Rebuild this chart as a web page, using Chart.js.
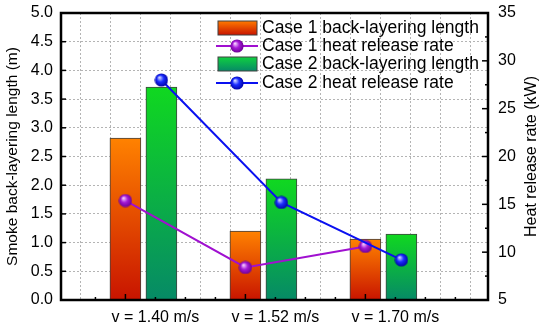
<!DOCTYPE html>
<html>
<head>
<meta charset="utf-8">
<script src="https://cdn.jsdelivr.net/npm/chart.js@4"></script>
<style>
  html, body { margin: 0; padding: 0; background: #fff; }
  #wrap { width: 550px; height: 332px; }
</style>
</head>
<body>
<div id="wrap"><canvas id="chart"></canvas></div>
<script>
/* ---------------------------------- Data ---------------------------------- */
const velocityLabels = ['v = 1.40 m/s', 'v = 1.52 m/s', 'v = 1.70 m/s'];
const case1Length = [2.82, 1.20, 1.06];
const case2Length = [3.71, 2.11, 1.15];
const case1Heat = [15.4, 8.4, 10.6];
const case2Heat = [28.0, 15.2, 9.2];
const lengthTicks = [0, 0.5, 1, 1.5, 2, 2.5, 3, 3.5, 4, 4.5, 5];
const heatTicks = [5, 10, 15, 20, 25, 30, 35];

// group positions on the numeric x axis (case 2 sits a bit to the right)
const groupPos = [1, 2, 3];
const case2Shift = 0.3;
const labelShift = 0.25;

const FONT = "'Liberation Sans', Arial, sans-serif";
const RIGHT_TITLE = 'Heat release rate (kW)';

/* ------------------------------ Helpers ----------------------------------- */
const sphere = (light, mid, dark) => {
    const c = document.createElement('canvas');
    c.width = 14; c.height = 14;
    const g = c.getContext('2d');
    const grad = g.createRadialGradient(5, 4.5, 0.5, 7, 7, 7);
    grad.addColorStop(0, light);
    grad.addColorStop(0.45, mid);
    grad.addColorStop(1, dark);
    g.fillStyle = grad;
    g.beginPath();
    g.arc(7, 7, 6.6, 0, Math.PI * 2);
    g.fill();
    return c;
}

const purpleBall = sphere('#f4c8ff', '#a419d6', '#6a0090');
const blueBall = sphere('#c8d0ff', '#1a2cff', '#0000a0');

const barFill = (top, bottom) => (ctx) => {
    const chart = ctx.chart;
    if (!chart.chartArea || ctx.type !== 'data') return top;
    const y = chart.scales.y;
    const y0 = y.getPixelForValue(0);
    const y1 = y.getPixelForValue(ctx.raw.y);
    const g = chart.ctx.createLinearGradient(0, y1, 0, y0);
    g.addColorStop(0, top);
    g.addColorStop(1, bottom);
    return g;
}

const toPoints = (vals, shift) => vals.map((v, i) => ({ x: groupPos[i] + shift, y: v }));

const noPad = (s) => { s.paddingTop = 0; s.paddingBottom = 0; s.paddingLeft = 0; s.paddingRight = 0; };

/* --------------------------- Frame, ticks, legend -------------------------- */
const framePlugin = {
    id: 'framePlugin',
    afterDatasetsDraw(chart) {
        const { ctx, chartArea: a, scales } = chart;
        ctx.save();
        ctx.strokeStyle = '#000';
        ctx.lineWidth = 1.5;
        const seg = (x1, y1, x2, y2) => { ctx.beginPath(); ctx.moveTo(x1, y1); ctx.lineTo(x2, y2); ctx.stroke(); };

        scales.x.ticks.forEach(t => {
            const px = scales.x.getPixelForValue(t.value);
            const len = Number.isInteger(t.value) ? 6 : 3;
            seg(px, a.bottom, px, a.bottom - len);
        });
        scales.y.ticks.forEach(t => {
            const py = scales.y.getPixelForValue(t.value);
            const major = Math.abs(t.value * 2 - Math.round(t.value * 2)) < 1e-6;
            seg(a.left, py, a.left + (major ? 5 : 3), py);
        });
        scales.y1.ticks.forEach(t => {
            const py = scales.y1.getPixelForValue(t.value);
            const len = t.value % 5 === 0 ? 6 : 3;
            seg(a.right, py, a.right - len, py);
        });

        ctx.lineWidth = 2.5;
        ctx.strokeRect(a.left, a.top, a.width, a.height);
        ctx.restore();
    },
    afterDraw(chart) {
        const { ctx, chartArea: a, scales } = chart;
        const x0 = a.left + 156;
        const rowY = [a.top + 15, a.top + 33, a.top + 51, a.top + 70];
        ctx.save();
        ctx.font = `17.5px ${FONT}`;
        ctx.textBaseline = 'middle';
        chart.data.datasets.forEach((ds, i) => {
            const y = rowY[i];
            if (ds.type === 'bar') {
                const g = ctx.createLinearGradient(0, y - 7, 0, y + 7);
                g.addColorStop(0, ds.legendTop);
                g.addColorStop(1, ds.legendBottom);
                ctx.fillStyle = g;
                ctx.fillRect(x0 + 1, y - 7, 39, 14);
                ctx.strokeStyle = '#404040';
                ctx.lineWidth = 1;
                ctx.strokeRect(x0 + 1, y - 7, 39, 14);
            } else {
                ctx.strokeStyle = ds.borderColor;
                ctx.lineWidth = 2;
                ctx.beginPath();
                ctx.moveTo(x0 - 1, y);
                ctx.lineTo(x0 + 41, y);
                ctx.stroke();
                ctx.drawImage(ds.pointStyle, x0 + 13, y - 7);
            }
            ctx.fillStyle = '#000';
            ctx.fillText(ds.label, x0 + 45, y);
        });

        // right axis title reads bottom-to-top like the left one
        ctx.translate(scales.y1.right - 18, (a.top + a.bottom) / 2);
        ctx.rotate(-Math.PI / 2);
        ctx.textAlign = 'center';
        ctx.font = `16px ${FONT}`;
        ctx.fillText(RIGHT_TITLE, 0, 0);
        ctx.restore();
    }
}

/* -------------------------------- Chart.js -------------------------------- */
const stepTicks = (from, to, step) => {
    const out = [];
    for (let v = from; v <= to + 1e-9; v += step) out.push({ value: Math.round(v * 100) / 100 });
    return out;
}

new Chart(document.getElementById('chart'), {
    data: {
        datasets: [
            {
                type: 'bar',
                label: 'Case 1 back-layering length',
                data: toPoints(case1Length, 0),
                backgroundColor: barFill('#ff8200', '#c81400'),
                legendTop: '#ff7a00', legendBottom: '#c81400',
                borderColor: '#404040',
                borderWidth: 1,
                barThickness: 31,
                grouped: false,
                yAxisID: 'y',
                order: 3
            },
            {
                type: 'line',
                label: 'Case 1 heat release rate',
                data: toPoints(case1Heat, 0),
                borderColor: '#a010d0',
                borderWidth: 2,
                pointStyle: purpleBall,
                pointRadius: 7,
                yAxisID: 'y1',
                order: 1
            },
            {
                type: 'bar',
                label: 'Case 2 back-layering length',
                data: toPoints(case2Length, case2Shift),
                backgroundColor: barFill('#10d820', '#068a66'),
                legendTop: '#10d040', legendBottom: '#068a66',
                borderColor: '#404040',
                borderWidth: 1,
                barThickness: 31,
                grouped: false,
                yAxisID: 'y',
                order: 2
            },
            {
                type: 'line',
                label: 'Case 2 heat release rate',
                data: toPoints(case2Heat, case2Shift),
                borderColor: '#0a10f0',
                borderWidth: 2,
                pointStyle: blueBall,
                pointRadius: 7,
                yAxisID: 'y1',
                order: 0
            }
        ]
    },
    options: {
        responsive: true,
        maintainAspectRatio: false,
        animation: false,
        layout: { padding: { top: 13, left: 0, right: 0, bottom: 0 } },
        plugins: {
            legend: { display: false },
            tooltip: { enabled: false }
        },
        scales: {
            x: {
                type: 'linear',
                min: 0.6,
                max: 3.885,
                afterBuildTicks: (s) => { s.ticks = stepTicks(0.75, 3.75, 0.25); },
                afterFit: (s) => { s.height = 32; noPad(s); },
                grid: { color: '#b4b4b4', lineWidth: 1, drawTicks: false },
                border: { display: false, dash: [2, 2] },
                ticks: {
                    autoSkip: false,
                    maxRotation: 0,
                    padding: 8,
                    color: '#000',
                    font: { family: FONT, size: 16 },
                    callback: (v) => {
                        const i = Math.round(v - labelShift) - 1;
                        return Math.abs(v - labelShift - (i + 1)) < 1e-6 ? velocityLabels[i] : '';
                    }
                }
            },
            y: {
                position: 'left',
                min: 0,
                max: 5,
                afterBuildTicks: (s) => { s.ticks = stepTicks(0, 5, 0.25); },
                afterFit: (s) => { s.width = 61; noPad(s); },
                grid: { color: '#b4b4b4', lineWidth: 1, drawTicks: false },
                border: { display: false, dash: [2, 2] },
                ticks: {
                    padding: 8,
                    color: '#000',
                    font: { family: FONT, size: 16 },
                    callback: (v) => lengthTicks.includes(v) ? v.toFixed(1) : ''
                },
                title: {
                    display: true,
                    text: 'Smoke back-layering length (m)',
                    color: '#000',
                    font: { family: FONT, size: 15.5 },
                    padding: { top: 3, bottom: 0 }
                }
            },
            y1: {
                position: 'right',
                min: 5,
                max: 35,
                afterBuildTicks: (s) => { s.ticks = stepTicks(5, 35, 2.5); },
                afterFit: (s) => { s.width = 62; noPad(s); },
                grid: { display: false, drawTicks: false },
                border: { display: false },
                ticks: {
                    padding: 10,
                    color: '#000',
                    font: { family: FONT, size: 16 },
                    callback: (v) => heatTicks.includes(v) ? String(v) : ''
                }
            }
        }
    },
    plugins: [framePlugin]
});
</script>
</body>
</html>
